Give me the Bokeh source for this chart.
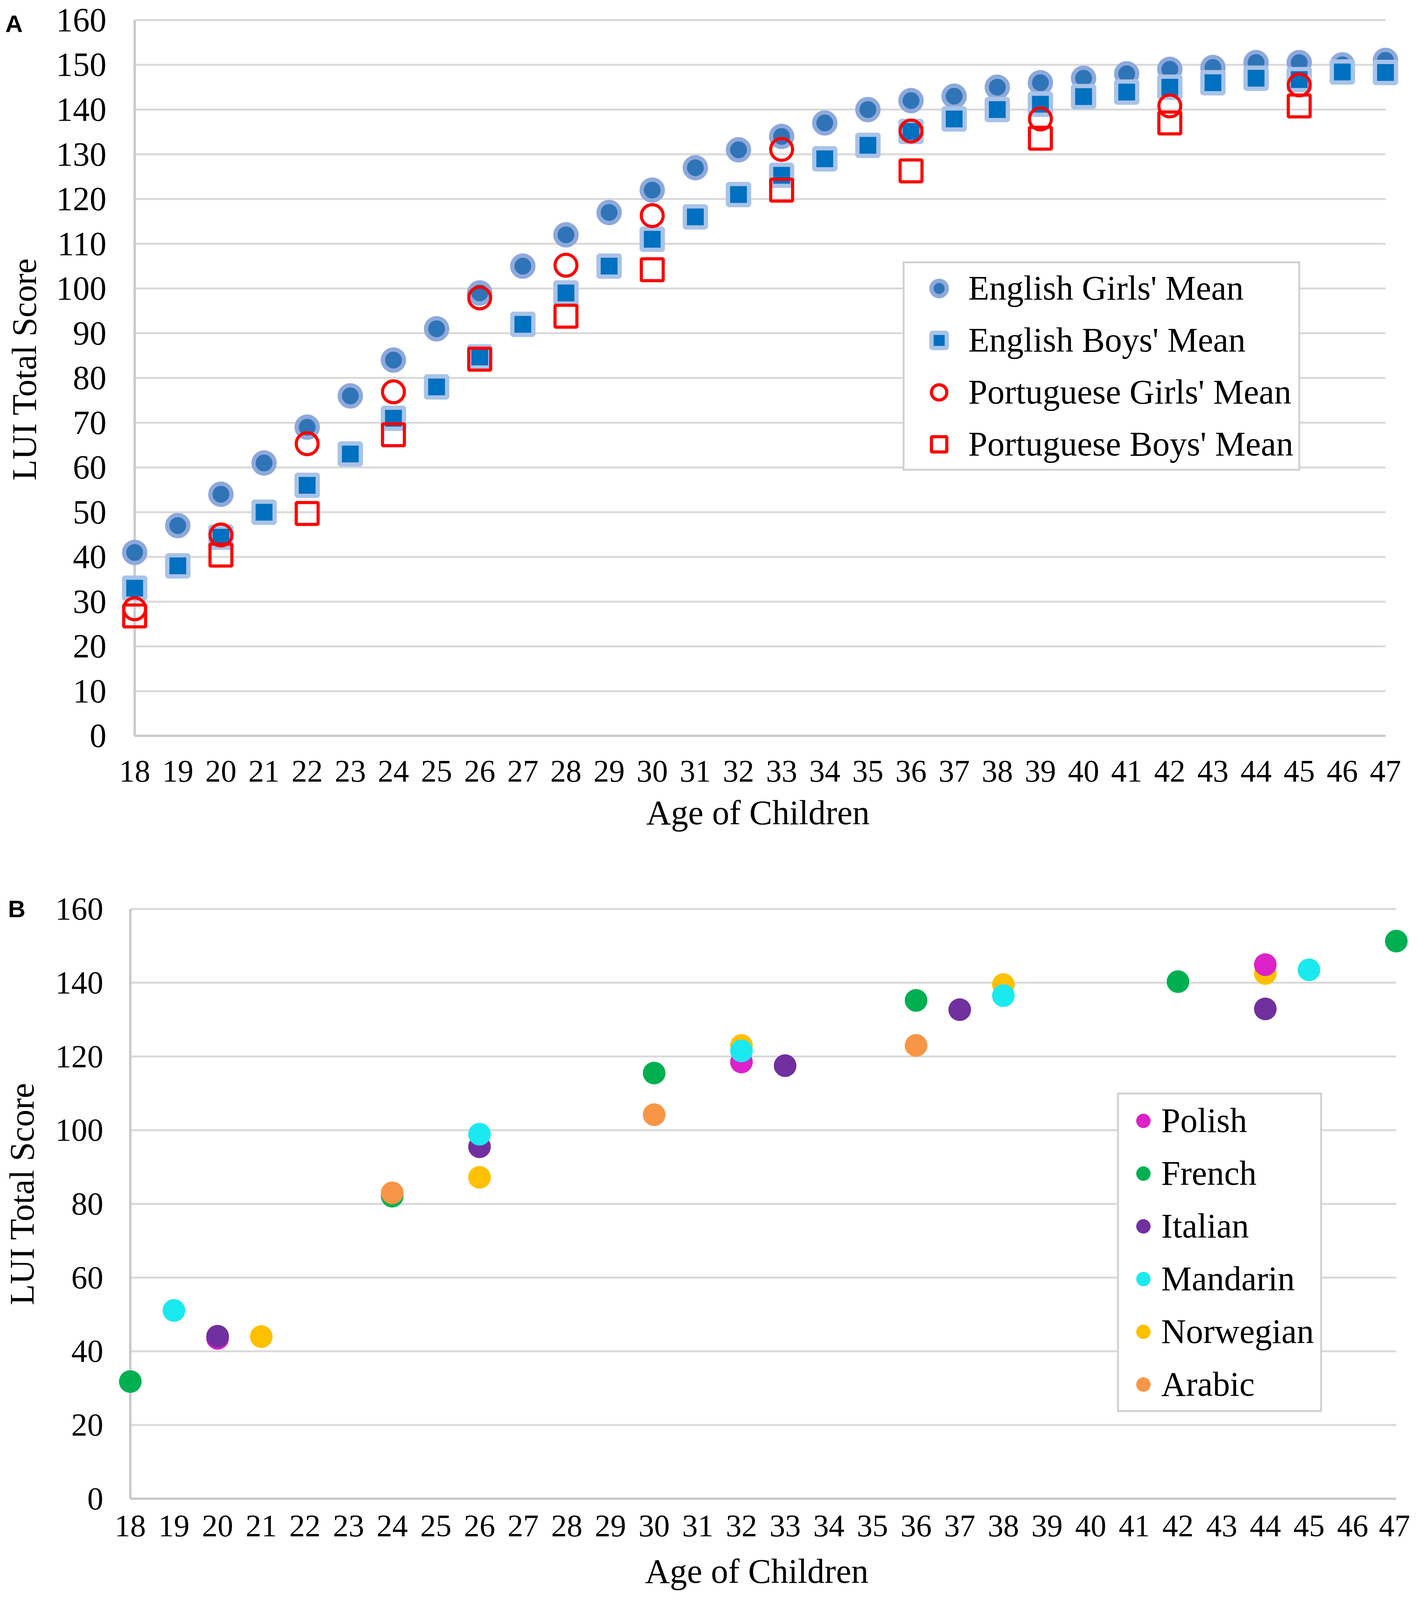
from bokeh.plotting import figure
from bokeh.layouts import column, row
from bokeh.models import Range1d, FixedTicker, Legend, LegendItem
from bokeh.core.properties import value
from bokeh.embed import file_html
from bokeh.resources import INLINE

# ---------------- data: panel A ----------------
ages = list(range(18, 48))
eng_girls = [41, 47, 54, 61, 69, 76, 84, 91, 99, 105, 112, 117, 122, 127, 131,
             134, 137, 140, 142, 143, 145, 146, 147, 148, 149, 149.4, 150.5, 150.5, 150, 151]
eng_boys = [33, 38, 44.4, 50, 56, 63, 71, 78, 84.7, 92, 99, 105, 111, 116, 121,
            125.3, 129, 132, 135.1, 137.9, 140, 141.2, 142.9, 143.9, 145, 146, 147, 146.7, 148.4, 148.3]
port_ages = [18, 20, 22, 24, 26, 28, 30, 33, 36, 39, 42, 45]
port_girls = [28.4, 44.9, 65.3, 76.9, 97.9, 105.2, 116.3, 131.1, 135.2, 137.9, 140.8, 145.5]
port_boys = [26.8, 40.4, 49.7, 67.3, 84.2, 93.8, 104.2, 122.0, 126.3, 133.6, 137.0, 140.8]
yticks_a = list(range(0, 161, 10))

# ---------------- data: panel B ----------------
polish_x = [20, 32, 44]
polish_y = [43.5, 118.5, 144.9]
french_x = [18, 24, 30, 36, 42, 47]
french_y = [31.8, 82.1, 115.5, 135.2, 140.3, 151.3]
italian_x = [20, 26, 33, 37, 44]
italian_y = [44.1, 95.5, 117.5, 132.7, 132.9]
mandarin_x = [19, 26, 32, 38, 45]
mandarin_y = [51.1, 98.9, 121.5, 136.5, 143.5]
norwegian_x = [21, 26, 32, 38, 44]
norwegian_y = [44.0, 87.2, 123.0, 139.5, 142.5]
arabic_x = [24, 30, 36]
arabic_y = [83.0, 104.2, 123.0]
yticks_b = list(range(0, 161, 20))

SERIF = "Liberation Serif"
GRID = "#D9D9D9"
AXIS = "#C8C8C8"
Y_TITLE = "LUI Total Score"
X_TITLE = "Age of Children"
W = 3610
SIDE_W = 120
HA = 2206
HB = 1871
TOP_A, BOT_A = 0, 317
TOP_B, BOT_B = 64, 236


def style(p, yticks, xfs, yfs, xstand, xlstand, ystand):
    p.xgrid.visible = False
    p.ygrid.visible = False
    p.outline_line_color = None
    p.background_fill_color = "white"
    p.border_fill_color = "white"
    for ax in (p.xaxis[0], p.yaxis[0]):
        ax.axis_line_color = None
        ax.major_tick_line_color = None
        ax.minor_tick_line_color = None
        ax.major_tick_out = 0
        ax.major_tick_in = 0
        ax.major_label_text_font = SERIF
        ax.major_label_text_color = "black"
        ax.axis_label_text_font = SERIF
        ax.axis_label_text_font_style = "normal"
        ax.axis_label_text_color = "black"
        ax.axis_label_text_font_size = "88px"
    p.xaxis.ticker = FixedTicker(ticks=ages)
    p.yaxis.ticker = FixedTicker(ticks=yticks)
    p.xaxis.major_label_text_font_size = xfs
    p.yaxis.major_label_text_font_size = yfs
    p.xaxis.major_label_standoff = xstand
    p.xaxis.axis_label_standoff = xlstand
    p.yaxis.major_label_standoff = ystand
    p.xaxis.axis_label = X_TITLE
    # gridlines and axis lines
    gy = [t for t in yticks if t > yticks[0]]
    p.segment(x0=[ages[0]] * len(gy), x1=[ages[-1]] * len(gy), y0=gy, y1=gy,
              line_color=GRID, line_width=5)
    p.segment(x0=[ages[0]], x1=[ages[-1]], y0=[yticks[0]], y1=[yticks[0]],
              line_color=AXIS, line_width=6)
    p.segment(x0=[ages[0]], x1=[ages[0]], y0=[yticks[0]], y1=[yticks[-1]],
              line_color=AXIS, line_width=6)


def side(height, top, bottom, left, lstand, letter, lx, ly):
    """Narrow strip left of a panel: the panel letter (text) and the y-axis title
    (an axis label), with the same vertical borders as the panel."""
    fh = height - top - bottom
    s = figure(width=SIDE_W, height=height, x_range=Range1d(left, SIDE_W), y_range=Range1d(0, fh),
               x_axis_type=None, toolbar_location=None, output_backend="svg",
               min_border_left=left, min_border_right=0, min_border_top=top, min_border_bottom=bottom)
    s.outline_line_color = None
    s.background_fill_color = "white"
    s.border_fill_color = "white"
    s.ygrid.visible = False
    ax = s.yaxis[0]
    ax.ticker = FixedTicker(ticks=[])
    ax.axis_line_color = None
    ax.major_tick_line_color = None
    ax.minor_tick_line_color = None
    ax.major_tick_out = 0
    ax.major_tick_in = 0
    ax.major_label_standoff = 0
    ax.axis_label = Y_TITLE
    ax.axis_label_text_font = SERIF
    ax.axis_label_text_font_size = "88px"
    ax.axis_label_text_font_style = "normal"
    ax.axis_label_text_color = "black"
    ax.axis_label_standoff = lstand
    s.text(x=[lx], y=[fh - ly], text=[letter], text_font=value("Liberation Sans"),
           text_font_style="bold", text_font_size="62px", text_color="black",
           text_align="left", text_baseline="alphabetic")
    return s


# ================= Panel A =================
pA = figure(width=W - SIDE_W, height=HA, x_range=Range1d(17.4, 47.5), y_range=Range1d(-0.5, 164.45),
            output_backend="svg", toolbar_location=None,
            min_border_left=278 - SIDE_W, min_border_right=8, min_border_top=TOP_A, min_border_bottom=BOT_A)
style(pA, yticks_a, "80px", "86px", 58, 28, 6)

rA1 = pA.scatter(ages, eng_girls, marker="circle", size=54, fill_color="#2F74B6",
                 line_color="#8EA9DB", line_width=11)
rA2 = pA.scatter(ages, eng_boys, marker="square", size=54, fill_color="#0070C0",
                 line_color="#A9C3E7", line_width=11)
rA3 = pA.scatter(port_ages, port_girls, marker="circle", size=56, fill_color=None,
                 line_color="#FF0000", line_width=8)
rA4 = pA.scatter(port_ages, port_boys, marker="square", size=56, fill_color=None,
                 line_color="#FF0000", line_width=8)

legA = Legend(items=[LegendItem(label="English Girls' Mean", renderers=[rA1]),
                     LegendItem(label="English Boys' Mean", renderers=[rA2]),
                     LegendItem(label="Portuguese Girls' Mean", renderers=[rA3]),
                     LegendItem(label="Portuguese Boys' Mean", renderers=[rA4])],
              location=(2033, 684), padding=13, spacing=32, glyph_width=150, glyph_height=98,
              label_height=98, label_standoff=0, margin=0,
              label_text_font=SERIF, label_text_font_size="88px", label_text_color="black",
              border_line_color="#A6A6A6", border_line_width=5,
              background_fill_color="white", background_fill_alpha=1.0)
pA.add_layout(legA)
sA = side(HA, TOP_A, BOT_A, 13, -97, "A", 13, 60)

# ================= Panel B =================
pB = figure(width=W - SIDE_W, height=HB, x_range=Range1d(17.4, 47.3), y_range=Range1d(-0.5, 166.0),
            output_backend="svg", toolbar_location=None,
            min_border_left=266 - SIDE_W, min_border_right=2, min_border_top=TOP_B, min_border_bottom=BOT_B)
style(pB, yticks_b, "80px", "82px", 38, 38, 2)

SZ = 58
rN = pB.scatter(norwegian_x, norwegian_y, marker="circle", size=SZ, fill_color="#FFC000", line_color=None)
rP = pB.scatter(polish_x, polish_y, marker="circle", size=SZ, fill_color="#DC22C8", line_color=None)
rF = pB.scatter(french_x, french_y, marker="circle", size=SZ, fill_color="#00B050", line_color=None)
rI = pB.scatter(italian_x, italian_y, marker="circle", size=SZ, fill_color="#7030A0", line_color=None)
rM = pB.scatter(mandarin_x, mandarin_y, marker="circle", size=SZ, fill_color="#1BE9F0", line_color=None)
rAr = pB.scatter(arabic_x, arabic_y, marker="circle", size=SZ, fill_color="#F79646", line_color=None)

legB = Legend(items=[LegendItem(label="Polish", renderers=[rP]),
                     LegendItem(label="French", renderers=[rF]),
                     LegendItem(label="Italian", renderers=[rI]),
                     LegendItem(label="Mandarin", renderers=[rM]),
                     LegendItem(label="Norwegian", renderers=[rN]),
                     LegendItem(label="Arabic", renderers=[rAr])],
              location=(2594, 226), padding=16, spacing=34, glyph_width=92, glyph_height=100,
              label_height=100, label_standoff=0, margin=0,
              label_text_font=SERIF, label_text_font_size="88px", label_text_color="black",
              border_line_color="#A6A6A6", border_line_width=5,
              background_fill_color="white", background_fill_alpha=1.0)
pB.add_layout(legB)
sB = side(HB, TOP_B, BOT_B, 20, -84, "B", 20, 56)

layout = column(row(sA, pA, spacing=0), row(sB, pB, spacing=0), spacing=0)
open("out.html", "w").write(file_html(layout, INLINE))
